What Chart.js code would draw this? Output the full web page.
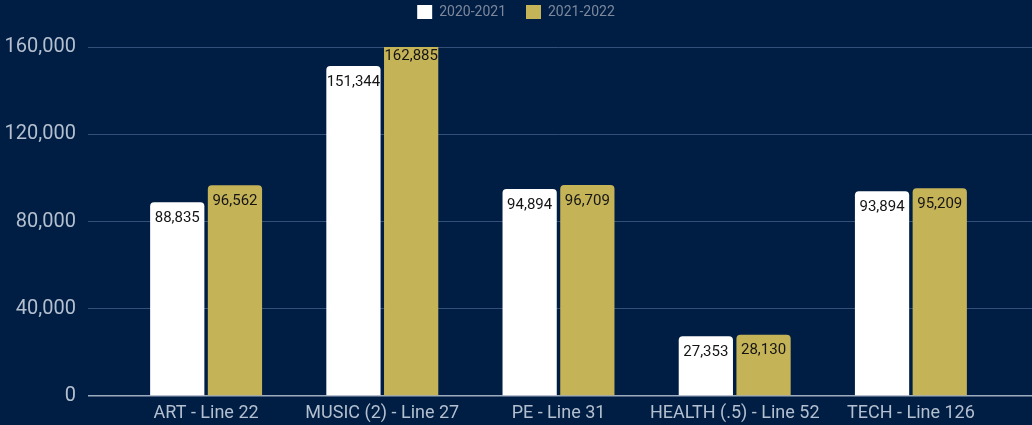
<!DOCTYPE html>
<html>
<head>
<meta charset="utf-8">
<script src="https://cdn.jsdelivr.net/npm/chart.js@4"></script>
<style>
  html, body { margin: 0; padding: 0; background: #001e44; }
  #wrap { width: 1032px; height: 425px; }
</style>
</head>
<body>
<div id="wrap"><canvas id="budgetChart"></canvas></div>
<script>
// ==================== DATA ====================
const categories = ['ART - Line 22', 'MUSIC (2) - Line 27', 'PE - Line 31', 'HEALTH (.5) - Line 52', 'TECH - Line 126'];
const seriesNames = ['2020-2021', '2021-2022'];
const values2021 = [88835, 151344, 94894, 27353, 93894];
const values2022 = [96562, 162885, 96709, 28130, 95209];
const yTicks = [0, 40000, 80000, 120000, 160000];

const GRID = '#34507a';
const AXIS = '#9eabbe';

// labels inside the top of each bar
const barLabels = {
    id: 'barLabels',
    afterDatasetsDraw(chart) {
        const ctx = chart.ctx;
        ctx.save();
        ctx.font = '15px Roboto';
        ctx.fillStyle = '#151515';
        ctx.textAlign = 'center';
        ctx.textBaseline = 'middle';
        chart.data.datasets.forEach((ds, i) => {
            chart.getDatasetMeta(i).data.forEach((bar, j) => {
                ctx.fillText(ds.data[j].toLocaleString('en-US'), bar.x, bar.y + 16);
            });
        });
        ctx.restore();
    }
};

const gridColor = c => (c.tick && c.tick.value === 0 ? AXIS : GRID);
const gridWidth = c => (c.tick && c.tick.value === 0 ? 1.5 : 1);

new Chart(document.getElementById('budgetChart'), {
    type: 'bar',
    data: {
        labels: categories,
        datasets: [
            { label: seriesNames[0], data: values2021, backgroundColor: '#ffffff', borderRadius: 4, borderSkipped: 'bottom' },
            { label: seriesNames[1], data: values2022, backgroundColor: '#c5b358', borderRadius: 4, borderSkipped: 'bottom' }
        ]
    },
    options: {
        responsive: true,
        maintainAspectRatio: false,
        animation: false,
        categoryPercentage: 0.655,
        barPercentage: 0.94,
        layout: { padding: { top: -15, bottom: 0, left: 0, right: 0 } },
        plugins: {
            legend: {
                labels: {
                    color: '#7d889c',
                    font: { family: 'Roboto', size: 14 },
                    boxWidth: 15,
                    boxHeight: 14,
                    padding: 20
                }
            },
            tooltip: { enabled: false }
        },
        scales: {
            x: {
                grid: { display: true, drawOnChartArea: false, drawTicks: false },
                border: { display: false },
                ticks: { color: '#b4bfcf', font: { family: 'Roboto', size: 18 }, padding: 7 },
                afterFit(s) { s.height = 29; }
            },
            xTop: {
                type: 'category',
                position: 'top',
                grid: { display: false },
                border: { display: false },
                ticks: { display: false },
                afterFit(s) { s.height = 18; }
            },
            y: {
                min: 0,
                max: 160000,
                afterBuildTicks(s) { s.ticks = yTicks.map(v => ({ value: v })); },
                grid: { color: gridColor, lineWidth: gridWidth, tickLength: 30 },
                border: { display: false },
                ticks: {
                    color: '#b4bfcf',
                    font: { family: 'Roboto', size: 20 },
                    padding: 12,
                    callback: v => v.toLocaleString('en-US')
                },
                afterFit(s) { s.width = 118; }
            },
            y2: {
                position: 'right',
                min: 0,
                max: 160000,
                afterBuildTicks(s) { s.ticks = yTicks.map(v => ({ value: v })); },
                grid: { color: gridColor, lineWidth: gridWidth, drawOnChartArea: false, tickLength: 33 },
                border: { display: false },
                ticks: { display: false },
                afterFit(s) { s.width = 33; }
            }
        }
    },
    plugins: [barLabels]
});
</script>
</body>
</html>
